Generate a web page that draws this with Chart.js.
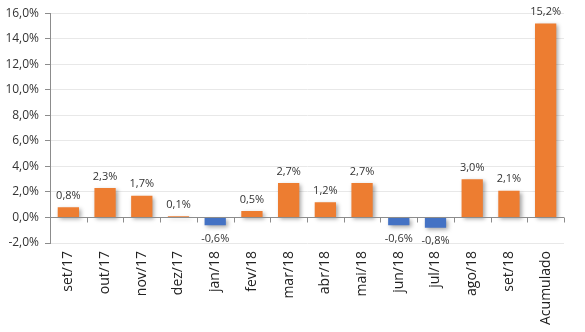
<!DOCTYPE html>
<html>
<head>
<meta charset="utf-8">
<script src="https://cdn.jsdelivr.net/npm/chart.js@4"></script>
<style>
  html, body { margin: 0; padding: 0; background: #fff; }
  #wrap { width: 585px; height: 332px; }
</style>
</head>
<body>
<div id="wrap"><canvas id="grafico"></canvas></div>
<script>
// dados do gráfico
const meses = ['set/17', 'out/17', 'nov/17', 'dez/17', 'jan/18', 'fev/18', 'mar/18', 'abr/18', 'mai/18', 'jun/18', 'jul/18', 'ago/18', 'set/18', 'Acumulado'];
const variacao = [0.8, 2.3, 1.7, 0.1, -0.6, 0.5, 2.7, 1.2, 2.7, -0.6, -0.8, 3.0, 2.1, 15.2];
const eixoMin = -2;
const eixoMax = 16;
const passo = 2;

const laranja = '#ED7D31';
const azul = '#4472C4';
const fonte = "'Open Sans', 'DejaVu Sans', sans-serif";

const fmt = (v, casas) => v.toFixed(casas).replace('.', ',') + '%';

// rótulos em cima/baixo das barras
const rotulos = {
  id: 'rotulos',
  afterDatasetsDraw(chart) {
    const ctx = chart.ctx;
    const meta = chart.getDatasetMeta(0);
    ctx.save();
    ctx.font = '11px ' + fonte;
    ctx.fillStyle = '#333';
    ctx.textAlign = 'center';
    meta.data.forEach((bar, i) => {
      const v = variacao[i];
      if (v >= 0) {
        ctx.textBaseline = 'bottom';
        ctx.fillText(fmt(v, 1), bar.x, bar.y - 6);
      } else {
        ctx.textBaseline = 'top';
        ctx.fillText(fmt(v, 1), bar.x, bar.y + 8);
      }
    });
    ctx.restore();
  }
};

// linha do zero com marcas entre categorias
const linhaZero = {
  id: 'linhaZero',
  afterDatasetsDraw(chart) {
    const { ctx, scales: { x, y }, chartArea } = chart;
    const y0 = Math.round(y.getPixelForValue(0)) + 0.5;
    ctx.save();
    ctx.strokeStyle = '#8c8c8c';
    ctx.lineWidth = 1;
    ctx.beginPath();
    ctx.moveTo(chartArea.left, y0);
    ctx.lineTo(chartArea.right, y0);
    for (let i = 0; i <= meses.length; i++) {
      const px = Math.round(x.getPixelForValue(i - 0.5)) + 0.5;
      ctx.moveTo(px, y0);
      ctx.lineTo(px, y0 + 5);
    }
    ctx.stroke();
    ctx.restore();
  }
};

// sombra leve nas barras
const sombra = {
  id: 'sombra',
  beforeDatasetsDraw(chart) {
    const ctx = chart.ctx;
    ctx.save();
    ctx.shadowColor = 'rgba(0,0,0,0.35)';
    ctx.shadowBlur = 4;
    ctx.shadowOffsetX = 2;
    ctx.shadowOffsetY = 2;
  },
  afterDatasetsDraw(chart) {
    chart.ctx.restore();
  }
};

new Chart(document.getElementById('grafico'), {
  type: 'bar',
  data: {
    labels: meses,
    datasets: [{
      data: variacao,
      backgroundColor: variacao.map(v => v < 0 ? azul : laranja),
      categoryPercentage: 1,
      barPercentage: 0.58
    }]
  },
  options: {
    responsive: true,
    maintainAspectRatio: false,
    animation: false,
    layout: { padding: { top: 13, right: 21, left: 0, bottom: 0 } },
    plugins: {
      legend: { display: false },
      tooltip: { enabled: false }
    },
    scales: {
      x: {
        grid: { display: false, drawTicks: false },
        border: { display: false },
        ticks: {
          minRotation: 90,
          maxRotation: 90,
          padding: 8,
          color: '#222',
          font: { family: fonte, size: 14 }
        },
        afterFit(s) { s.height = 89; }
      },
      y: {
        min: eixoMin,
        max: eixoMax,
        ticks: {
          stepSize: passo,
          padding: 6,
          color: '#333',
          font: { family: fonte, size: 12 },
          callback: v => fmt(v, 1)
        },
        grid: {
          color: '#e8e8e8',
          tickColor: '#8c8c8c',
          tickLength: 5
        },
        border: { color: '#8c8c8c' },
        afterFit(s) { s.width = 50; }
      }
    }
  },
  plugins: [sombra, linhaZero, rotulos]
});
</script>
</body>
</html>
